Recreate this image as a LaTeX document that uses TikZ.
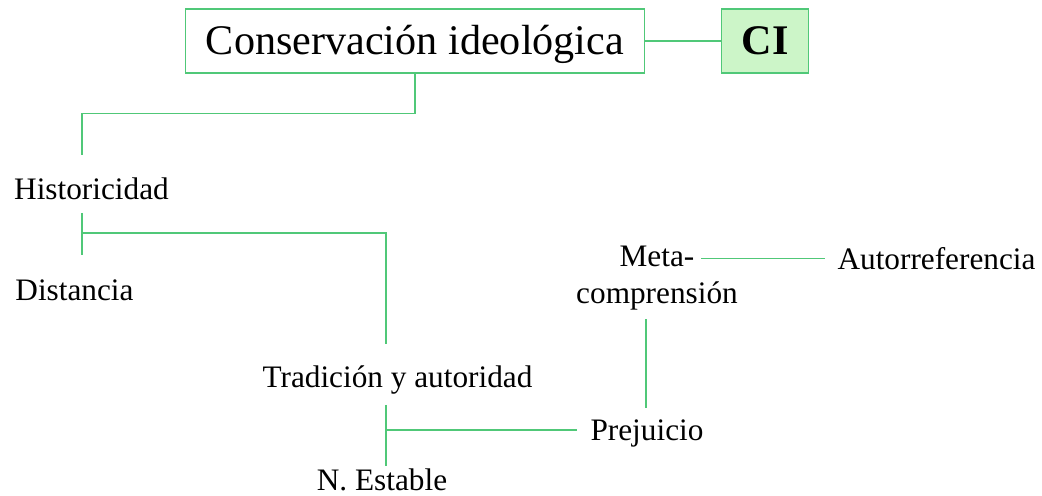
\documentclass[tikz,border=0pt]{standalone}
\usepackage{fontspec}
\setmainfont{Liberation Serif}
\definecolor{linea}{RGB}{80,200,120}
\definecolor{relleno}{RGB}{204,245,200}
\tikzset{
  link/.style = {draw = linea, line width = 0.9pt},
  caja/.style = {draw = linea, line width = 0.9pt, inner sep = 0pt, anchor = base,
                 text height = 26.2pt, text depth = 10.2pt, font = \fontsize{24}{28}\selectfont},
  texto/.style = {inner sep = 0pt, anchor = base, font = \fontsize{17.8}{21}\selectfont}
}
\begin{document}
\begin{tikzpicture}[x = 0.02cm, y = -0.02cm]
    \useasboundingbox (0,0) rectangle (1042,496);
    % cajas de arriba
    \node[caja, minimum width = 9.18cm] (cons) at (415,55) {Conservación ideológica};
    \node[caja, minimum width = 1.74cm, fill = relleno, font = \fontsize{24}{28}\selectfont\bfseries] (ci) at (765,55) {CI};
    % textos
    \node[texto] (hist) at (91.5,200) {Historicidad};
    \node[texto] (dist) at (74.5,301) {Distancia};
    \node[texto] (trad) at (397.5,388) {Tradición y autoridad};
    \node[texto] (prej) at (647,441) {Prejuicio};
    \node[texto] (nest) at (382,491) {N. Estable};
    \node[texto, align = center, font = \fontsize{17.8}{21.1}\selectfont] (meta) at (657,304) {Meta-\\comprensión};
    \node[texto] (autoref) at (936.5,270) {Autorreferencia};
    % puntos de las lineas
    \coordinate (h-top) at (82,155);
    \coordinate (h-a) at (82,213);
    \coordinate (h-b) at (82,255);
    \coordinate (h-mid) at (82,233);
    \coordinate (t-top) at (386,344);
    \coordinate (t-a) at (386,405);
    \coordinate (t-b) at (386,466);
    \coordinate (t-mid) at (386,430);
    \coordinate (p-left) at (577,430);
    \coordinate (p-top) at (646,408);
    \coordinate (m-bot) at (646,319);
    \coordinate (m-right) at (701,258.7);
    \coordinate (a-left) at (825,258.7);
    % lineas
    \draw[link] (cons) -- (ci);
    \draw[link] (cons.south) -- ++(0,40) -| (h-top);
    \draw[link] (h-a) -- (h-b);
    \draw[link] (h-mid) -| (t-top);
    \draw[link] (t-a) -- (t-b);
    \draw[link] (t-mid) -- (p-left);
    \draw[link] (p-top) -- (m-bot);
    \draw[link] (m-right) -- (a-left);
\end{tikzpicture}
\end{document}
